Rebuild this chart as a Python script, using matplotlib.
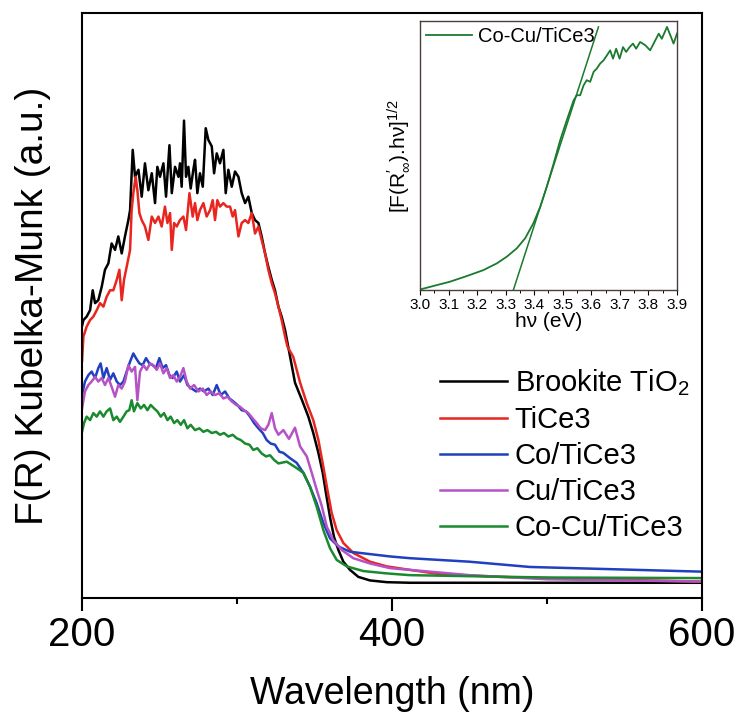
import numpy as np
import matplotlib
matplotlib.use("Agg")
import matplotlib.pyplot as plt
from matplotlib.ticker import MultipleLocator

plt.rcParams['font.family'] = ['Liberation Sans', 'DejaVu Sans']
plt.rcParams['mathtext.fontset'] = 'custom'
plt.rcParams['mathtext.rm'] = 'Liberation Sans'
plt.rcParams['mathtext.it'] = 'Liberation Sans:italic'

# --- main panel data (wavelength in nm, F(R) in a.u.) ---
black_wl = [200.0, 200.9, 203.0, 205.2, 206.9, 208.4, 210.5, 212.7, 214.8, 217.0, 219.1, 221.3,
            223.4, 225.6, 227.7, 229.9, 231.0, 232.7, 234.2, 236.4, 238.5, 240.6, 242.8, 245.0,
            247.1, 248.6, 250.3, 252.5, 254.2, 256.4, 257.9, 260.0, 262.2, 263.2, 264.3, 265.8,
            267.1, 268.6, 270.1, 271.8, 272.9, 274.4, 276.1, 277.9, 279.8, 281.5, 283.7, 285.2,
            286.9, 289.0, 291.2, 292.7, 294.4, 296.6, 298.7, 300.9, 303.0, 305.2, 307.3, 309.5,
            311.6, 313.8, 315.9, 318.1, 320.2, 322.4, 324.5, 326.7, 328.8, 331.0, 337.4, 341.8,
            346.0, 349.2, 352.5, 355.3, 357.4, 360.0, 362.6, 365.4, 368.6, 372.9, 378.3, 385.8,
            396.6, 411.6, 500.0, 600.0]
black_fr = [46.5, 47.5, 48.1, 49.2, 52.6, 50.4, 50.9, 53.2, 56.1, 57.2, 60.6, 59.5,
            61.8, 58.9, 61.8, 64.6, 66.3, 76.6, 72.0, 73.2, 68.6, 74.3, 69.7, 72.6,
            67.5, 73.7, 72.0, 74.3, 68.6, 77.4, 69.2, 73.7, 72.0, 74.3, 70.3, 81.6,
            72.0, 73.7, 70.0, 73.2, 74.9, 69.2, 72.6, 70.3, 80.3, 78.3, 77.2, 72.6,
            76.0, 74.3, 76.6, 69.2, 73.2, 70.3, 72.9, 72.0, 69.2, 67.5, 68.6, 65.8,
            64.6, 64.1, 61.8, 58.9, 56.6, 54.4, 52.6, 49.8, 48.1, 45.8, 36.8, 33.9,
            31.0, 28.2, 24.8, 21.4, 17.9, 13.8, 10.4, 8.2, 6.2, 4.8, 3.6, 3.0,
            2.7, 2.6, 2.6, 2.6]

red_wl = [200.0, 200.9, 203.0, 205.2, 207.3, 209.5, 211.6, 213.8, 215.9, 218.1, 220.2, 222.4,
          224.1, 225.6, 227.1, 228.8, 231.0, 232.0, 233.1, 234.6, 235.7, 237.0, 238.5, 240.6,
          242.8, 245.0, 247.1, 249.3, 251.4, 253.5, 255.1, 256.8, 257.9, 259.4, 261.1, 263.2,
          265.4, 267.1, 269.3, 271.4, 272.9, 274.4, 276.1, 278.3, 280.4, 282.6, 284.3, 285.8,
          287.3, 289.0, 291.2, 293.3, 295.5, 297.2, 298.7, 300.9, 303.0, 305.2, 307.3, 309.5,
          311.6, 313.8, 315.9, 318.1, 320.2, 322.4, 324.5, 326.7, 328.8, 331.0, 332.5, 336.3,
          340.7, 345.0, 349.2, 352.5, 355.7, 358.3, 361.1, 364.3, 368.6, 375.0, 385.8, 396.6,
          411.6, 430.0, 470.0, 530.0, 600.0]
red_fr = [40.5, 44.7, 46.4, 47.5, 48.1, 49.2, 50.4, 49.8, 51.5, 52.6, 52.6, 54.4,
          56.1, 50.9, 54.4, 56.6, 59.5, 66.3, 69.2, 72.0, 69.7, 65.8, 64.6, 63.5,
          61.2, 65.2, 64.1, 65.2, 63.5, 66.9, 64.1, 65.8, 59.5, 64.1, 63.5, 64.6,
          65.2, 62.9, 69.2, 65.2, 67.5, 64.6, 66.3, 67.5, 65.2, 66.3, 68.0, 64.6,
          68.0, 66.9, 67.5, 66.9, 66.9, 65.2, 66.3, 61.8, 64.1, 64.6, 64.1, 65.8,
          62.3, 63.5, 61.2, 58.9, 56.1, 53.8, 52.1, 49.8, 47.5, 44.7, 43.0, 41.2,
          36.8, 33.3, 30.4, 27.0, 22.4, 18.5, 14.5, 11.6, 9.4, 7.7, 6.2, 5.4,
          4.8, 4.1, 3.6, 3.2, 2.8]

blue_wl = [200.0, 201.9, 204.1, 206.2, 208.4, 210.5, 212.0, 213.8, 215.9, 218.1, 220.2, 222.4,
           224.5, 226.7, 228.8, 231.0, 233.1, 234.8, 237.0, 239.1, 241.3, 243.4, 245.6, 247.7,
           249.9, 252.0, 254.2, 256.4, 258.5, 261.1, 263.2, 265.8, 268.0, 270.8, 273.6, 276.1,
           278.7, 281.5, 284.3, 286.9, 289.5, 292.3, 295.1, 297.6, 300.2, 303.0, 305.8, 308.4,
           311.0, 313.8, 316.6, 319.1, 321.7, 324.5, 327.3, 329.9, 334.2, 338.5, 342.8, 347.1,
           351.4, 355.7, 360.0, 365.4, 372.9, 385.8, 398.7, 411.6, 450.0, 489.0, 600.0]
blue_fr = [34.7, 37.0, 38.1, 38.7, 37.6, 39.3, 40.1, 37.6, 39.3, 37.3, 38.4, 37.0,
           36.4, 37.0, 38.7, 40.4, 41.8, 41.0, 40.1, 39.8, 41.0, 40.1, 39.8, 39.3,
           41.0, 39.3, 39.8, 38.1, 37.6, 38.7, 37.0, 38.1, 36.4, 35.8, 35.3, 35.8,
           35.3, 35.8, 34.7, 36.4, 34.7, 35.3, 34.1, 33.6, 33.0, 32.1, 31.9, 31.0,
           29.9, 29.0, 28.2, 27.0, 26.4, 26.2, 25.0, 24.8, 23.9, 23.1, 21.4, 19.0,
           16.2, 12.8, 10.2, 8.8, 7.9, 7.5, 7.1, 6.8, 6.2, 5.3, 4.5]

purple_wl = [200.0, 201.9, 204.1, 206.2, 208.4, 210.5, 212.7, 214.8, 217.0, 219.1, 221.3, 223.4,
             225.6, 227.7, 229.9, 232.0, 234.2, 235.7, 237.4, 239.6, 241.7, 243.9, 246.0, 248.2,
             250.3, 252.5, 254.6, 256.8, 258.9, 261.1, 263.2, 265.4, 267.5, 269.7, 272.3, 275.1,
             277.9, 280.4, 283.0, 285.8, 288.6, 291.2, 293.8, 296.6, 299.4, 301.9, 304.5, 307.3,
             310.1, 312.7, 315.3, 318.1, 320.2, 322.4, 324.5, 326.7, 329.9, 333.5, 337.4, 340.7,
             345.0, 348.2, 351.4, 354.7, 357.9, 362.1, 367.6, 375.0, 385.8, 398.7, 411.6, 450.0,
             500.0, 600.0]
purple_fr = [32.4, 35.3, 36.4, 37.0, 37.8, 37.0, 37.6, 36.4, 37.6, 36.1, 34.4, 36.4,
             35.8, 37.0, 39.8, 38.7, 39.5, 33.8, 38.7, 39.8, 39.0, 40.1, 39.8, 39.0,
             40.1, 38.4, 39.3, 37.6, 38.1, 37.0, 37.8, 39.3, 37.0, 35.8, 36.4, 35.3,
             35.8, 34.7, 35.3, 34.7, 35.0, 34.1, 34.4, 33.6, 33.0, 32.7, 32.1, 31.6,
             30.7, 29.9, 29.0, 28.7, 29.6, 31.6, 29.0, 27.9, 28.7, 27.2, 29.1, 25.9,
             24.2, 21.4, 18.5, 15.7, 12.2, 9.9, 8.2, 6.8, 5.9, 5.1, 4.8, 3.9,
             3.2, 2.8]

green_wl = [200.0, 201.3, 203.0, 205.2, 207.3, 209.5, 211.6, 213.8, 215.9, 218.1, 220.2, 222.4,
            224.5, 226.7, 228.8, 230.5, 232.0, 233.5, 235.7, 237.9, 240.0, 242.2, 244.3, 246.5,
            248.6, 250.8, 252.9, 255.1, 257.2, 259.4, 261.5, 263.7, 265.8, 268.0, 270.1, 272.9,
            275.7, 278.3, 280.9, 283.7, 286.5, 289.0, 291.6, 294.4, 297.2, 299.8, 302.4, 305.2,
            308.0, 310.5, 313.1, 315.9, 318.7, 321.3, 323.9, 326.7, 332.1, 338.5, 342.8, 347.1,
            351.4, 355.7, 360.0, 364.3, 370.8, 381.5, 396.6, 411.6, 500.0, 600.0]
green_fr = [28.4, 29.9, 31.0, 30.4, 31.6, 31.0, 31.9, 31.0, 31.9, 32.4, 30.4, 31.0,
            30.1, 31.0, 31.9, 32.1, 33.8, 31.9, 33.3, 32.4, 33.0, 32.1, 33.0, 32.4,
            31.9, 31.0, 31.6, 30.4, 31.0, 29.9, 30.4, 29.6, 30.4, 29.0, 29.6, 28.7,
            29.0, 28.4, 28.7, 28.2, 28.4, 27.9, 28.2, 27.6, 27.9, 27.3, 27.0, 26.4,
            26.2, 25.3, 25.6, 24.7, 24.2, 24.4, 23.6, 23.0, 23.3, 22.2, 21.4, 19.0,
            15.6, 11.6, 8.5, 6.5, 5.4, 4.6, 4.2, 3.9, 3.5, 3.4]

# --- inset: Tauc plot for Co-Cu/TiCe3 ---
tauc_ev = [3.000, 3.047, 3.105, 3.164, 3.222, 3.269, 3.304, 3.339, 3.368, 3.397, 3.421, 3.444,
           3.468, 3.491, 3.514, 3.538, 3.549, 3.561, 3.573, 3.584, 3.596, 3.608, 3.619, 3.631,
           3.643, 3.655, 3.666, 3.676, 3.687, 3.699, 3.711, 3.722, 3.734, 3.746, 3.757, 3.771,
           3.789, 3.806, 3.824, 3.836, 3.847, 3.865, 3.879, 3.888, 3.900]
tauc_val = [0.002, 0.015, 0.031, 0.052, 0.074, 0.099, 0.124, 0.155, 0.192, 0.248, 0.309, 0.384,
            0.470, 0.557, 0.631, 0.705, 0.724, 0.724, 0.761, 0.780, 0.774, 0.811, 0.823, 0.842,
            0.854, 0.873, 0.891, 0.860, 0.897, 0.860, 0.903, 0.885, 0.903, 0.916, 0.897, 0.922,
            0.910, 0.891, 0.928, 0.953, 0.934, 0.978, 0.941, 0.916, 0.953]
fit_ev = [3.327, 3.625]
fit_val = [0.0, 0.978]
inset_ticks = [3.0, 3.1, 3.2, 3.3, 3.4, 3.5, 3.6, 3.7, 3.8, 3.9]

series = [
    ("Brookite TiO$_2$", black_wl, black_fr, "#000000"),
    ("TiCe3", red_wl, red_fr, "#e8251f"),
    ("Co/TiCe3", blue_wl, blue_fr, "#2140c0"),
    ("Cu/TiCe3", purple_wl, purple_fr, "#b552c6"),
    ("Co-Cu/TiCe3", green_wl, green_fr, "#1a8a2e"),
]

fig = plt.figure(figsize=(7.41, 7.17), dpi=100)
ax = fig.add_axes([0.1107, 0.166, 0.8367, 0.8159])

for label, wl, fr, col in series:
    ax.plot(wl, fr, color=col, lw=1.8, label=label)

ax.set_xlim(200, 600)
ax.set_ylim(0, 100)
ax.set_xticks([200, 400, 600])
ax.set_xticks([300, 500], minor=True)
ax.set_yticks([])
ax.tick_params(axis='x', which='major', direction='out', length=9, width=1.5,
               labelsize=29, pad=4)
ax.tick_params(axis='x', which='minor', direction='out', length=4, width=1.5)
for sp in ax.spines.values():
    sp.set_linewidth(1.5)
ax.set_xlabel("Wavelength (nm)", fontsize=27, labelpad=16)
ax.set_ylabel("F(R) Kubelka-Munk (a.u.)", fontsize=28, labelpad=22)

ax.legend(loc='center left', bbox_to_anchor=(0.578, 0.245), frameon=False,
          fontsize=21, handlelength=2.3, handletextpad=0.25, labelspacing=0.27,
          borderpad=0, borderaxespad=0)

# inset
axi = fig.add_axes([0.5668, 0.5955, 0.3468, 0.3752])
axi.plot(tauc_ev, tauc_val, color="#1a7a2e", lw=1.3, label="Co-Cu/TiCe3")
axi.plot(fit_ev, fit_val, color="#1a7a2e", lw=1.1)
axi.set_xlim(3.0, 3.9)
axi.set_ylim(0, 1.0)
axi.set_xticks(inset_ticks)
axi.set_xticklabels([f"{v:.1f}" for v in inset_ticks])
axi.xaxis.set_minor_locator(MultipleLocator(0.05))
axi.set_yticks([])
axi.tick_params(axis='x', which='major', direction='out', length=3.5, width=0.8,
                labelsize=11, pad=2)
axi.tick_params(axis='x', which='minor', direction='out', length=2, width=0.7)
for sp in axi.spines.values():
    sp.set_color("#4a3f3a")
    sp.set_linewidth(1.0)
axi.set_xlabel("h\u03bd (eV)", fontsize=15, labelpad=0)
axi.set_ylabel("[F(R$^{\\prime}_{\\infty}$).h\u03bd]$^{1/2}$", fontsize=15, labelpad=6)
axi.legend(loc='upper left', frameon=False, fontsize=14.5, handlelength=2.3,
           handletextpad=0.3, borderpad=0.2, borderaxespad=0.1)

fig.savefig("out.png", dpi=100)
